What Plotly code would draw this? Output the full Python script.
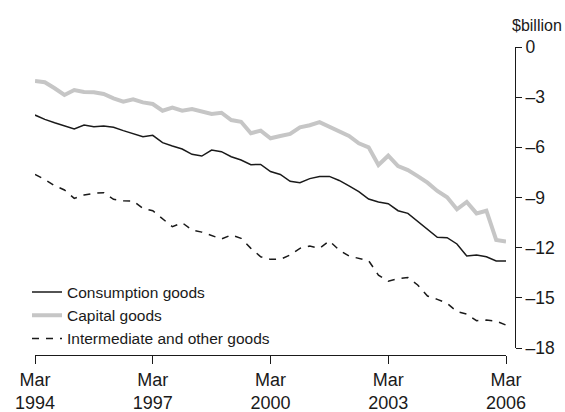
import plotly.graph_objects as go

quarters = list(range(49))  # Mar 1994 .. Mar 2006, quarterly index

consumption = [-4.07, -4.33, -4.53, -4.70, -4.90, -4.67, -4.77, -4.72, -4.80, -5.00,
               -5.20, -5.36, -5.28, -5.72, -5.92, -6.10, -6.42, -6.52, -6.16, -6.26,
               -6.56, -6.76, -7.04, -7.02, -7.45, -7.62, -8.03, -8.11, -7.87, -7.74,
               -7.74, -7.98, -8.31, -8.65, -9.09, -9.27, -9.37, -9.79, -9.95, -10.43,
               -10.95, -11.38, -11.40, -11.78, -12.50, -12.44, -12.54, -12.80, -12.80]

capital = [-2.03, -2.11, -2.47, -2.87, -2.57, -2.69, -2.71, -2.81, -3.07, -3.27,
           -3.13, -3.31, -3.41, -3.81, -3.63, -3.81, -3.71, -3.87, -4.01, -3.93,
           -4.37, -4.47, -5.16, -5.00, -5.46, -5.32, -5.20, -4.80, -4.68, -4.49,
           -4.77, -5.04, -5.32, -5.76, -6.00, -7.06, -6.50, -7.12, -7.36, -7.72,
           -8.11, -8.61, -8.99, -9.71, -9.27, -9.95, -9.79, -11.54, -11.64]

intermediate = [-7.62, -7.92, -8.29, -8.55, -9.05, -8.85, -8.75, -8.71, -9.11, -9.19,
                -9.21, -9.65, -9.79, -10.25, -10.75, -10.51, -10.95, -11.07, -11.28, -11.48,
                -11.24, -11.44, -12.04, -12.54, -12.70, -12.70, -12.44, -12.04, -11.90, -12.04,
                -11.60, -12.14, -12.50, -12.64, -12.78, -13.64, -14.01, -13.85, -13.79, -14.23,
                -14.89, -15.09, -15.33, -15.83, -15.97, -16.37, -16.33, -16.39, -16.63]

x_tick_vals = [0, 12, 24, 36, 48]
x_tick_text = ["Mar<br>1994", "Mar<br>1997", "Mar<br>2000", "Mar<br>2003", "Mar<br>2006"]
y_tick_vals = [0, -3, -6, -9, -12, -15, -18]
y_tick_text = ["0", "\u20133", "\u20136", "\u20139", "\u201312", "\u201315", "\u201318"]

FONT = "Liberation Sans"
TXT = "#1a1a1a"

fig = go.Figure()
fig.add_trace(go.Scatter(x=quarters, y=consumption, mode="lines", name="Consumption goods",
                         line=dict(color="#1a1a1a", width=1.5)))
fig.add_trace(go.Scatter(x=quarters, y=capital, mode="lines", name="Capital goods",
                         line=dict(color="#c6c6c6", width=4)))
fig.add_trace(go.Scatter(x=quarters, y=intermediate, mode="lines", name="Intermediate and other goods",
                         line=dict(color="#1a1a1a", width=1.5, dash="7px,7px")))

W, H = 565, 412
left, right_axis, right_end = 35, 515, 506
top, ybottom, xline = 47, 348, 355
pw = right_axis - left

fig.update_layout(
    width=W, height=H,
    margin=dict(l=left, r=W - right_axis, t=top, b=H - xline, pad=0, autoexpand=False),
    paper_bgcolor="white", plot_bgcolor="white",
    font=dict(family=FONT, size=16, color=TXT),
    showlegend=True,
    legend=dict(x=(27 - left) / pw, y=0.258, xanchor="left", yanchor="top",
                bgcolor="rgba(0,0,0,0)", font=dict(size=15.5, color=TXT),
                tracegroupgap=0, itemwidth=30),
    xaxis=dict(domain=[0, (right_end - left) / pw],
               range=[0, 48], anchor="free", position=0,
               showgrid=False, zeroline=False,
               showline=True, linecolor="#1a1a1a", linewidth=1.2,
               ticks="outside", ticklen=8, tickwidth=1.2, tickcolor="#1a1a1a",
               tickvals=x_tick_vals, ticktext=x_tick_text,
               tickfont=dict(size=18, color=TXT)),
    yaxis=dict(domain=[(xline - ybottom) / (xline - top), 1],
               range=[-18, 0], anchor="free", position=1, side="right",
               showgrid=False, zeroline=False,
               showline=True, linecolor="#1a1a1a", linewidth=1.2,
               ticks="outside", ticklen=6, tickwidth=1.2, tickcolor="#1a1a1a",
               tickvals=y_tick_vals, ticktext=y_tick_text,
               tickfont=dict(size=17.5, color=TXT)),
    annotations=[dict(text="$billion", xref="paper", yref="paper", x=1.0, y=1.0,
                      xanchor="right", yanchor="middle", yshift=22, xshift=49,
                      showarrow=False, font=dict(size=16, color=TXT))],
)

fig.write_html("out.html", config={"displayModeBar": False},
               post_script="document.body.style.margin='0px';document.body.style.overflow='hidden';")
